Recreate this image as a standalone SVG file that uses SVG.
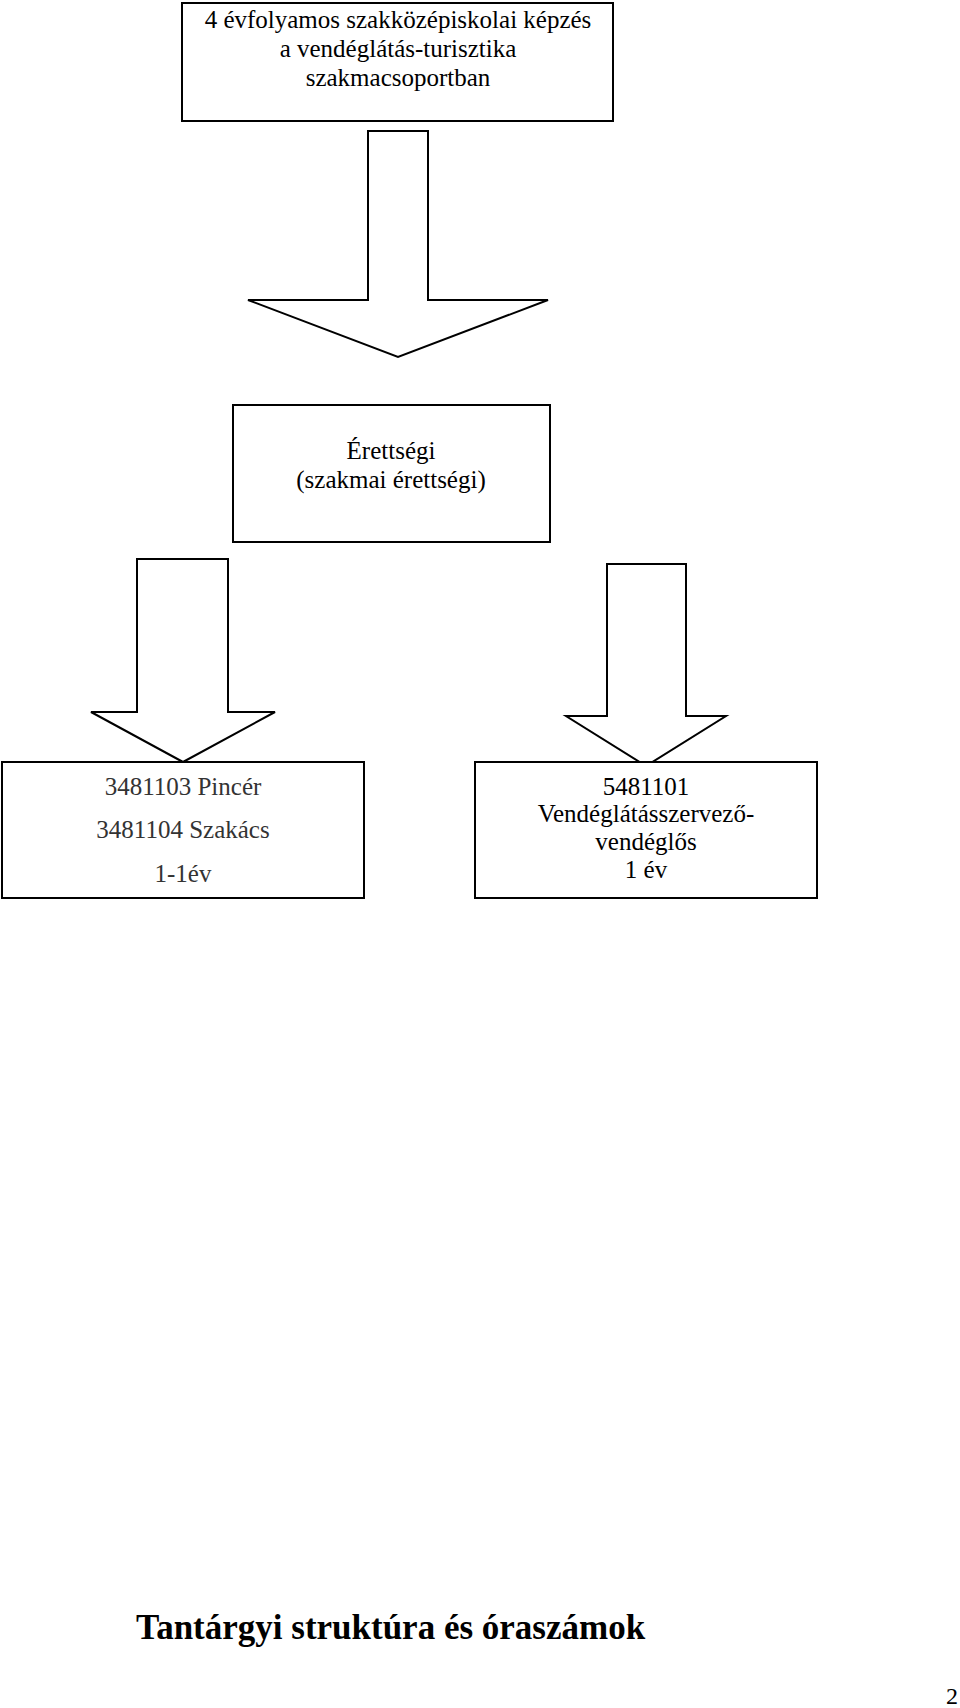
<svg xmlns="http://www.w3.org/2000/svg" width="960" height="1708" viewBox="0 0 960 1708">
<style>
.box{fill:#fff;stroke:#000;stroke-width:2}
.arr{fill:#fff;stroke:#000;stroke-width:2;stroke-linejoin:miter}
.t{font-family:"Liberation Serif","Times New Roman",serif;font-size:25px;fill:#000;text-anchor:middle}
.g{fill:#333}
.title{font-family:"Liberation Serif","Times New Roman",serif;font-size:35px;font-weight:bold;fill:#000}
.pg{font-family:"Liberation Serif","Times New Roman",serif;font-size:24px;fill:#000}
</style>
<rect width="960" height="1708" fill="#fff"/>
<g id="connectors">
<polygon class="arr" points="368,131 428,131 428,300 548,300 398,357 248,300 368,300"/>
<polygon class="arr" points="137,559 228,559 228,712 275,712 183,762 91,712 137,712"/>
<polygon class="arr" points="607,564 686,564 686,716 726,716 646,766 566,716 607,716"/>
</g>
<g id="node-kepzes">
<rect class="box" x="182" y="3" width="431" height="118"/>
<text class="t" x="398" y="28">4 évfolyamos szakközépiskolai képzés</text>
<text class="t" x="398" y="57">a vendéglátás-turisztika</text>
<text class="t" x="398" y="86">szakmacsoportban</text>
</g>
<g id="node-erettsegi">
<rect class="box" x="233" y="405" width="317" height="137"/>
<text class="t" x="391" y="459">Érettségi</text>
<text class="t" x="391" y="488">(szakmai érettségi)</text>
</g>
<g id="node-pincer">
<rect class="box" x="2" y="762" width="362" height="136"/>
<text class="t g" x="183" y="795">3481103 Pincér</text>
<text class="t g" x="183" y="838">3481104 Szakács</text>
<text class="t g" x="183" y="882">1-1év</text>
</g>
<g id="node-vendeglos">
<rect class="box" x="475" y="762" width="342" height="136"/>
<text class="t" x="646" y="795">5481101</text>
<text class="t" x="646" y="822">Vendéglátásszervező-</text>
<text class="t" x="646" y="850">vendéglős</text>
<text class="t" x="646" y="878">1 év</text>
</g>
<text class="title" x="136" y="1639">Tantárgyi struktúra és óraszámok</text>
<text class="pg" x="946" y="1704">2</text>
</svg>
